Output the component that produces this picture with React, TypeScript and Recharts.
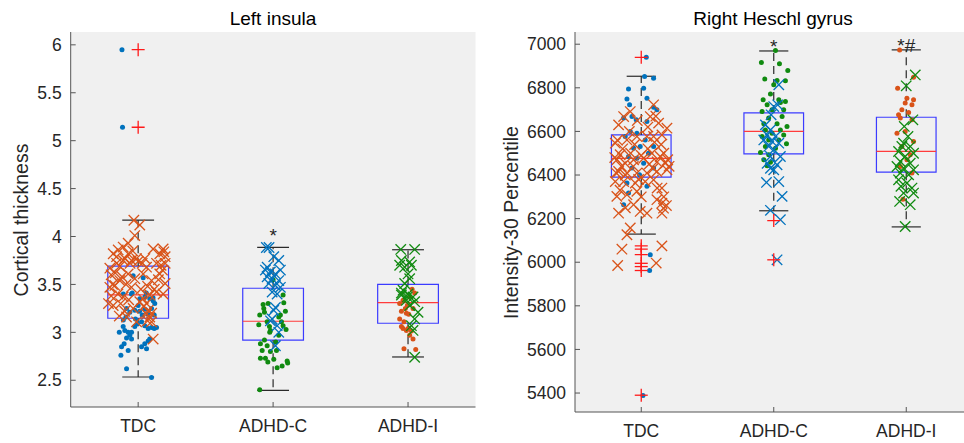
import React from 'react';
import {
  ScatterChart,
  Scatter,
  XAxis,
  YAxis,
  CartesianGrid,
  ReferenceArea,
  ReferenceLine,
} from 'recharts';

type P = [number, number];

const CATEGORIES = ['TDC', 'ADHD-C', 'ADHD-I'];
const BLUE = '#0072BD';
const ORANGE = '#D95319';
const GREEN = '#108A10';
const FONT = "'Liberation Sans', Arial, Helvetica, sans-serif";

// ---------- Left insula ----------
const leftTitle = 'Left insula';
const leftYLabel = 'Cortical thickness';
const leftTicks = [2.5, 3, 3.5, 4, 4.5, 5, 5.5, 6];
const leftQ1 = [3.147, 2.918, 3.095];
const leftMedian = [3.39, 3.116, 3.31];
const leftQ3 = [3.69, 3.46, 3.5];
const leftLow = [2.534, 2.395, 2.743];
const leftHigh = [4.17, 3.886, 3.862];
const leftOutliers: P[] = [[1, 5.95], [1, 5.14]];
const leftNotes = [{ cat: 2, y: 4.06, t: '*' }];

const leftTdcDots: P[] = [
  [-0.12, 5.95], [-0.116, 5.14],
  [-0.037, 3.59], [0.037, 3.57], [-0.11, 3.4], [-0.05, 3.4], [0.06, 3.41], [0.11, 3.36],
  [-0.044, 3.41], [-0.086, 3.25], [-0.062, 3.21], [-0.025, 3.23], [0, 3.28], [0.012, 3.35],
  [0.05, 3.37], [0.086, 3.35], [0.111, 3.33], [0.123, 3.3], [0.099, 3.25], [0.074, 3.19],
  [0.119, 3.18], [-0.111, 3.06], [-0.099, 3.02], [-0.074, 3.0], [-0.049, 3.0], [-0.025, 3.06],
  [-0.005, 3.09], [0.025, 3.11], [0.049, 3.07], [0.074, 3.04], [0.099, 3.05], [0.119, 3.04],
  [0.136, 3.05], [-0.086, 2.94], [-0.062, 2.97], [-0.049, 2.93], [-0.104, 2.88], [-0.123, 2.85],
  [-0.074, 2.81], [-0.128, 2.76], [0.049, 2.88], [0.074, 2.91], [0.086, 2.93], [0.025, 2.85],
  [0.062, 2.83], [-0.086, 2.62], [0.099, 2.53], [-0.11, 3.13], [-0.09, 3.16], [-0.14, 3.0],
  [0.03, 3.18], [-0.02, 3.14], [0.01, 3.22], [0.05, 3.24],
];
const leftTdcCrosses: P[] = [
  [-0.032, 4.17], [0.012, 4.12], [-0.025, 4.01], [-0.074, 3.93], [-0.111, 3.89], [-0.148, 3.86],
  [-0.185, 3.82], [-0.074, 3.82], [-0.012, 3.77], [0.111, 3.87], [0.16, 3.82], [0.185, 3.87],
  [0.2, 3.79], [0.136, 3.72], [0.062, 3.68], [-0.16, 3.72], [-0.21, 3.67], [-0.173, 3.49],
  [-0.21, 3.47], [-0.136, 3.54], [-0.111, 3.37], [-0.185, 3.28], [-0.074, 3.61], [-0.025, 3.56],
  [0.037, 3.61], [0.099, 3.54], [0.16, 3.61], [0.2, 3.51], [0.185, 3.4], [0.136, 3.42],
  [0.086, 3.39], [0.037, 3.35], [0.062, 3.3], [0.074, 3.23], [0.086, 3.16], [0.062, 3.19],
  [-0.086, 3.16], [-0.037, 3.25], [-0.012, 3.11], [0.099, 3.11], [0.111, 2.93], [0.012, 3.32],
  [-0.136, 3.69], [-0.099, 3.77], [-0.049, 3.75], [0.0, 3.74], [0.17, 3.7], [-0.19, 3.5],
  [-0.2, 3.6], [-0.17, 3.62], [-0.12, 3.58], [-0.09, 3.5], [-0.05, 3.47], [0.02, 3.45],
  [0.07, 3.48], [0.12, 3.45], [0.15, 3.55], [0.18, 3.65], [0.2, 3.72], [0.19, 3.84],
  [-0.15, 3.4], [-0.2, 3.38], [-0.22, 3.3], [-0.13, 3.3], [-0.07, 3.34], [0.1, 3.2],
  [0.07, 3.12], [0.04, 3.27], [-0.06, 3.72], [-0.11, 3.75], [-0.16, 3.79], [-0.04, 3.85],
  [0.03, 3.72], [0.05, 3.77], [-0.14, 3.17], [-0.1, 3.22],
];
const leftAdhdcDots: P[] = [
  [0.074, 3.39], [0.079, 3.31], [-0.037, 3.3], [-0.074, 3.29], [-0.099, 3.18], [-0.064, 3.21],
  [0.091, 3.22], [0.054, 3.18], [-0.044, 3.11], [-0.106, 3.08], [0.074, 3.07], [0.062, 3.11],
  [0.096, 3.03], [-0.025, 3.0], [0.042, 2.97], [-0.064, 2.92], [-0.094, 2.88], [-0.044, 2.86],
  [-0.081, 2.81], [-0.02, 2.8], [0.025, 2.81], [-0.094, 2.73], [-0.057, 2.73], [-0.039, 2.69],
  [0.005, 2.72], [0.104, 2.7], [0.108, 2.68], [0.067, 2.65], [0.03, 2.63], [-0.099, 2.4],
  [-0.069, 3.25], [-0.027, 3.06], [0.042, 3.16], [0.0, 3.55], [-0.02, 3.02], [0.02, 2.9],
];
const leftAdhdcCrosses: P[] = [
  [-0.05, 3.885], [-0.03, 3.885], [0.005, 3.79], [0.042, 3.75], [-0.044, 3.68], [-0.057, 3.65],
  [-0.02, 3.63], [0.017, 3.61], [0.054, 3.65], [-0.044, 3.58], [-0.007, 3.56], [0.042, 3.54],
  [-0.032, 3.51], [0.017, 3.49], [0.054, 3.47], [-0.007, 3.42], [0.03, 3.4], [0.017, 3.26],
  [0.005, 3.23], [-0.007, 3.14], [-0.02, 3.12], [0.03, 3.07], [0.042, 3.0], [0.017, 2.86],
];
const leftAdhdiDots: P[] = [
  [0.049, 3.41], [0.012, 3.37], [-0.037, 3.335], [-0.062, 3.3], [-0.005, 3.28], [0.037, 3.25],
  [-0.049, 3.22], [-0.012, 3.2], [0.005, 3.19], [-0.062, 3.14], [-0.03, 3.11], [-0.049, 3.06],
  [-0.037, 3.04], [-0.012, 3.02], [0.0, 3.04], [0.025, 3.015], [0.012, 2.97], [0.037, 2.93],
  [-0.03, 2.83], [0.057, 2.82], [0.03, 3.45], [-0.02, 3.25],
];
const leftAdhdiCrosses: P[] = [
  [-0.054, 3.865], [0.049, 3.865], [-0.049, 3.75], [0.012, 3.735], [-0.062, 3.7], [-0.025, 3.68],
  [0.025, 3.7], [0.0, 3.61], [0.012, 3.56], [-0.025, 3.51], [-0.037, 3.44], [-0.049, 3.41],
  [0.0, 3.4], [0.037, 3.37], [-0.012, 3.335], [0.049, 3.32], [0.012, 3.28], [0.074, 3.21],
  [0.049, 3.14], [0.025, 3.07], [0.037, 3.02], [0.049, 2.74], [-0.005, 3.37], [-0.049, 3.39],
];

// ---------- Right Heschl gyrus ----------
const rightTitle = 'Right Heschl gyrus';
const rightYLabel = 'Intensity-30 Percentile';
const rightTicks = [5400, 5600, 5800, 6000, 6200, 6400, 6600, 6800, 7000];
const rightQ1 = [6390, 6497, 6413];
const rightMedian = [6476, 6600, 6508];
const rightQ3 = [6584, 6685, 6665];
const rightLow = [6129, 6236, 6162];
const rightHigh = [6853, 6969, 6974];
const rightOutliers: P[] = [
  [1, 6940], [1, 6075], [1, 6060], [1, 6035], [1, 5995], [1, 5980], [1, 5962], [1, 5390],
  [2, 6191], [2, 6011],
];
const rightNotes = [{ cat: 2, y: 7010, t: '*' }, { cat: 3, y: 7014, t: '*#' }];

const rightTdcDots: P[] = [
  [0.038, 6940], [0.025, 6852], [0.093, 6844], [-0.096, 6794], [0.018, 6798], [-0.108, 6749],
  [0.043, 6752], [-0.088, 6722], [0.118, 6699], [0.093, 6711], [-0.133, 6661], [-0.07, 6668],
  [-0.038, 6653], [0.043, 6645], [-0.083, 6600], [-0.033, 6592], [-0.121, 6577], [0.03, 6561],
  [-0.008, 6531], [-0.058, 6523], [0.093, 6531], [-0.096, 6485], [-0.033, 6477], [0.055, 6500],
  [0.018, 6454], [-0.07, 6432], [0.093, 6432], [-0.013, 6401], [-0.108, 6363], [0.043, 6348],
  [-0.096, 6317], [-0.133, 6264], [0.068, 6034], [0.063, 5962], [0.013, 5389],
];
const rightTdcCrosses: P[] = [
  [0.093, 6722], [-0.083, 6691], [-0.133, 6668], [0.068, 6668], [-0.171, 6630], [0.194, 6615],
  [0.131, 6638], [-0.196, 6546], [-0.159, 6493], [-0.108, 6561], [-0.033, 6577], [0.043, 6577],
  [0.093, 6577], [0.156, 6584], [-0.184, 6470], [-0.121, 6454], [-0.058, 6470], [0.018, 6477],
  [0.08, 6500], [0.143, 6485], [0.181, 6454], [0.194, 6424], [-0.171, 6416], [-0.108, 6409],
  [-0.033, 6409], [0.043, 6409], [0.118, 6416], [-0.196, 6370], [-0.133, 6370], [-0.045, 6363],
  [0.03, 6370], [0.093, 6378], [0.156, 6340], [-0.184, 6302], [-0.108, 6310], [-0.033, 6325],
  [-0.058, 6264], [0.118, 6287], [0.156, 6271], [0.168, 6248], [-0.171, 6225], [-0.008, 6233],
  [0.043, 6225], [0.156, 6225], [-0.083, 6157], [-0.108, 6126], [-0.146, 6060], [0.156, 6075],
  [-0.178, 5985], [0.113, 5996], [-0.15, 6440], [0.12, 6460], [-0.08, 6500], [0.17, 6500],
  [-0.2, 6480], [-0.19, 6410], [-0.14, 6520], [-0.09, 6600], [-0.05, 6540], [0.0, 6490],
  [0.05, 6520], [0.1, 6550], [0.15, 6540], [0.2, 6470], [0.21, 6440], [-0.12, 6400],
  [-0.06, 6440], [0.06, 6450], [0.12, 6340], [0.17, 6300], [0.19, 6260], [-0.16, 6330],
  [-0.02, 6380], [0.09, 6430], [-0.12, 6250], [0.0, 6300], [0.11, 6670], [-0.18, 6560],
  [0.05, 6620], [-0.03, 6650],
];
const rightAdhdcDots: P[] = [
  [0.013, 6971], [-0.093, 6916], [0.043, 6910], [0.106, 6879], [-0.068, 6840], [0.025, 6834],
  [0.0, 6814], [0.088, 6832], [-0.025, 6772], [-0.08, 6745], [0.05, 6733], [0.088, 6737],
  [-0.05, 6722], [-0.013, 6699], [0.075, 6699], [-0.088, 6691], [0.063, 6668], [-0.038, 6661],
  [-0.075, 6635], [0.025, 6635], [0.1, 6623], [-0.063, 6607], [0.05, 6607], [-0.013, 6592],
  [-0.088, 6577], [0.075, 6584], [-0.038, 6561], [0.038, 6561], [0.096, 6543], [-0.063, 6531],
  [0.013, 6523], [-0.1, 6503], [-0.038, 6493], [-0.075, 6470], [-0.025, 6458], [-0.05, 6442],
  [0.038, 6745],
];
const rightAdhdcCrosses: P[] = [
  [0.038, 6814], [0.0, 6714], [0.03, 6722], [-0.02, 6676], [-0.063, 6630], [-0.025, 6607],
  [-0.05, 6584], [0.013, 6577], [-0.075, 6561], [-0.013, 6554], [0.038, 6546], [0.0, 6516],
  [-0.025, 6485], [0.05, 6485], [-0.05, 6454], [0.025, 6447], [0.0, 6424], [-0.055, 6366],
  [0.038, 6370], [0.063, 6302], [-0.025, 6238], [0.05, 6195], [0.025, 6011], [-0.025, 6431],
  [-0.038, 6531],
];
const rightAdhdiDots: P[] = [
  [-0.05, 6974], [0.055, 6849], [-0.065, 6798], [0.005, 6752], [0.055, 6745], [-0.008, 6730],
  [0.043, 6722], [-0.033, 6699], [-0.058, 6676], [0.018, 6687], [-0.045, 6661], [0.043, 6653],
  [-0.07, 6592], [-0.008, 6600], [0.055, 6554], [-0.033, 6531], [0.03, 6493], [0.005, 6470],
  [-0.045, 6439], [0.043, 6409], [-0.025, 6289],
];
const rightAdhdiCrosses: P[] = [
  [0.068, 6859], [0.0, 6809], [0.05, 6653], [-0.015, 6623], [0.013, 6577], [-0.033, 6531],
  [0.055, 6500], [-0.058, 6508], [-0.008, 6485], [-0.045, 6462], [0.03, 6454], [-0.07, 6439],
  [-0.02, 6432], [0.055, 6424], [-0.045, 6409], [0.018, 6401], [-0.058, 6378], [0.005, 6363],
  [0.043, 6340], [-0.04, 6348], [-0.02, 6317], [0.055, 6317], [-0.05, 6279], [0.03, 6264],
  [-0.008, 6164], [-0.02, 6546], [0.03, 6531],
];

// ---------- rendering ----------
const toPts = (center: number, arr: P[]) => arr.map(([o, v]) => ({ x: center + o, y: v }));

const dotShape = (color: string) => (props: any) => (
  <circle cx={props.cx} cy={props.cy} r={2.5} fill={color} />
);
const crossShape = (color: string) => (props: any) => {
  const { cx, cy } = props;
  const s = 5.2;
  return (
    <g stroke={color} strokeWidth={1.3}>
      <line x1={cx - s} y1={cy - s} x2={cx + s} y2={cy + s} />
      <line x1={cx - s} y1={cy + s} x2={cx + s} y2={cy - s} />
    </g>
  );
};
const plusShape = (props: any) => {
  const { cx, cy } = props;
  const s = 6.5;
  return (
    <g stroke="#ff1a1a" strokeWidth={1.3}>
      <line x1={cx - s} y1={cy} x2={cx + s} y2={cy} />
      <line x1={cx} y1={cy - s} x2={cx} y2={cy + s} />
    </g>
  );
};
const noteShape = (props: any) => {
  const { cx, cy, payload } = props;
  return (
    <text x={cx} y={cy + 11} textAnchor="middle" fontSize={19} fontFamily={FONT} fill="#262626">
      {payload.t}
    </text>
  );
};

type Group = { cat: number; pts: P[]; kind: 'dot' | 'cross'; color: string };

type PanelProps = {
  left: number;
  width: number;
  yWidth: number;
  marginRight: number;
  xHeight: number;
  domain: [number, number];
  ticks: number[];
  q1: number[];
  med: number[];
  q3: number[];
  lo: number[];
  hi: number[];
  capHalf: number;
  outliers: P[];
  groups: Group[];
  notes: { cat: number; y: number; t: string }[];
};

const HALF = 0.225;
const tickStyle = { fill: '#262626', fontSize: 17.5, fontFamily: FONT };

function Panel(p: PanelProps) {
  const cats = [1, 2, 3];
  return (
    <div style={{ position: 'absolute', left: p.left, top: 0 }}>
      <ScatterChart
        width={p.width}
        height={443}
        margin={{ top: 32, right: p.marginRight, bottom: 0, left: 0 }}
      >
        <CartesianGrid fill="#f0f0f0" horizontal={false} vertical={false} stroke="none" />
        <XAxis
          type="number"
          dataKey="x"
          domain={[0.5, 3.5]}
          ticks={cats}
          interval={0}
          allowDataOverflow
          tickFormatter={(v: number) => CATEGORIES[v - 1]}
          height={p.xHeight}
          tickSize={-5}
          tickMargin={18}
          stroke="#555"
          tick={tickStyle}
        />
        <XAxis
          xAxisId="top"
          orientation="top"
          type="number"
          dataKey="x"
          domain={[0.5, 3.5]}
          ticks={cats}
          interval={0}
          allowDataOverflow
          tickFormatter={() => ''}
          height={0}
          tickSize={-5}
          stroke="#555"
        />
        <YAxis
          type="number"
          dataKey="y"
          domain={p.domain}
          ticks={p.ticks}
          interval={0}
          allowDataOverflow
          width={p.yWidth}
          tickSize={-5}
          tickMargin={14}
          stroke="#555"
          tick={tickStyle}
        />
        <YAxis
          yAxisId="right"
          orientation="right"
          type="number"
          dataKey="y"
          domain={p.domain}
          ticks={p.ticks}
          interval={0}
          allowDataOverflow
          width={0}
          tickSize={-5}
          tickFormatter={() => ''}
          stroke="#555"
        />
        {cats.map((c, i) => (
          <ReferenceArea
            key={'box' + c}
            x1={c - HALF}
            x2={c + HALF}
            y1={p.q1[i]}
            y2={p.q3[i]}
            fill="none"
            fillOpacity={0}
            stroke="#3b3bff"
            strokeWidth={1.2}
          />
        ))}
        {cats.map((c, i) => (
          <ReferenceLine
            key={'med' + c}
            segment={[{ x: c - HALF, y: p.med[i] }, { x: c + HALF, y: p.med[i] }]}
            stroke="#ff3b3b"
            strokeWidth={1.2}
          />
        ))}
        {cats.map((c, i) => (
          <ReferenceLine
            key={'wu' + c}
            segment={[{ x: c, y: p.q3[i] }, { x: c, y: p.hi[i] }]}
            stroke="#2a2a2a"
            strokeWidth={1.2}
            strokeDasharray="8 5"
          />
        ))}
        {cats.map((c, i) => (
          <ReferenceLine
            key={'wl' + c}
            segment={[{ x: c, y: p.q1[i] }, { x: c, y: p.lo[i] }]}
            stroke="#2a2a2a"
            strokeWidth={1.2}
            strokeDasharray="8 5"
          />
        ))}
        {cats.map((c, i) => (
          <ReferenceLine
            key={'cu' + c}
            segment={[{ x: c - p.capHalf, y: p.hi[i] }, { x: c + p.capHalf, y: p.hi[i] }]}
            stroke="#2a2a2a"
            strokeWidth={1.2}
          />
        ))}
        {cats.map((c, i) => (
          <ReferenceLine
            key={'cl' + c}
            segment={[{ x: c - p.capHalf, y: p.lo[i] }, { x: c + p.capHalf, y: p.lo[i] }]}
            stroke="#2a2a2a"
            strokeWidth={1.2}
          />
        ))}
        {p.groups.map((g, i) => (
          <Scatter
            key={'g' + i}
            data={toPts(g.cat, g.pts)}
            isAnimationActive={false}
            shape={g.kind === 'dot' ? dotShape(g.color) : crossShape(g.color)}
          />
        ))}
        <Scatter
          data={p.outliers.map(([c, v]) => ({ x: c, y: v }))}
          isAnimationActive={false}
          shape={plusShape}
        />
        <Scatter
          data={p.notes.map((n) => ({ x: n.cat, y: n.y, t: n.t }))}
          isAnimationActive={false}
          shape={noteShape}
        />
      </ScatterChart>
    </div>
  );
}

export default function App() {
  return (
    <div
      style={{
        position: 'fixed',
        left: 0,
        top: 0,
        width: 964,
        height: 443,
        overflow: 'hidden',
        background: '#ffffff',
        fontFamily: FONT,
      }}
    >
      <Panel
        left={0}
        width={480}
        yWidth={70.7}
        marginRight={4.5}
        xHeight={36}
        domain={[2.221, 6.134]}
        ticks={leftTicks}
        q1={leftQ1}
        med={leftMedian}
        q3={leftQ3}
        lo={leftLow}
        hi={leftHigh}
        capHalf={0.118}
        outliers={leftOutliers}
        notes={leftNotes}
        groups={[
          { cat: 1, pts: leftTdcDots, kind: 'dot', color: BLUE },
          { cat: 1, pts: leftTdcCrosses, kind: 'cross', color: ORANGE },
          { cat: 2, pts: leftAdhdcDots, kind: 'dot', color: GREEN },
          { cat: 2, pts: leftAdhdcCrosses, kind: 'cross', color: BLUE },
          { cat: 3, pts: leftAdhdiDots, kind: 'dot', color: ORANGE },
          { cat: 3, pts: leftAdhdiCrosses, kind: 'cross', color: GREEN },
        ]}
      />
      <Panel
        left={480}
        width={500}
        yWidth={95}
        marginRight={7.5}
        xHeight={31}
        domain={[5313, 7056]}
        ticks={rightTicks}
        q1={rightQ1}
        med={rightMedian}
        q3={rightQ3}
        lo={rightLow}
        hi={rightHigh}
        capHalf={0.11}
        outliers={rightOutliers}
        notes={rightNotes}
        groups={[
          { cat: 1, pts: rightTdcDots, kind: 'dot', color: BLUE },
          { cat: 1, pts: rightTdcCrosses, kind: 'cross', color: ORANGE },
          { cat: 2, pts: rightAdhdcDots, kind: 'dot', color: GREEN },
          { cat: 2, pts: rightAdhdcCrosses, kind: 'cross', color: BLUE },
          { cat: 3, pts: rightAdhdiDots, kind: 'dot', color: ORANGE },
          { cat: 3, pts: rightAdhdiCrosses, kind: 'cross', color: GREEN },
        ]}
      />
      <svg
        width={964}
        height={443}
        style={{ position: 'absolute', left: 0, top: 0, pointerEvents: 'none' }}
      >
        <text x={273} y={24.5} textAnchor="middle" fontSize={19} fontFamily={FONT} fill="#000">
          {leftTitle}
        </text>
        <text x={773} y={24.5} textAnchor="middle" fontSize={19} fontFamily={FONT} fill="#000">
          {rightTitle}
        </text>
        <text
          x={21}
          y={220}
          textAnchor="middle"
          dominantBaseline="central"
          transform="rotate(-90 21 220)"
          fontSize={19.5}
          fontFamily={FONT}
          fill="#262626"
        >
          {leftYLabel}
        </text>
        <text
          x={511}
          y={222.5}
          textAnchor="middle"
          dominantBaseline="central"
          transform="rotate(-90 511 222.5)"
          fontSize={19.5}
          fontFamily={FONT}
          fill="#262626"
        >
          {rightYLabel}
        </text>
      </svg>
    </div>
  );
}
